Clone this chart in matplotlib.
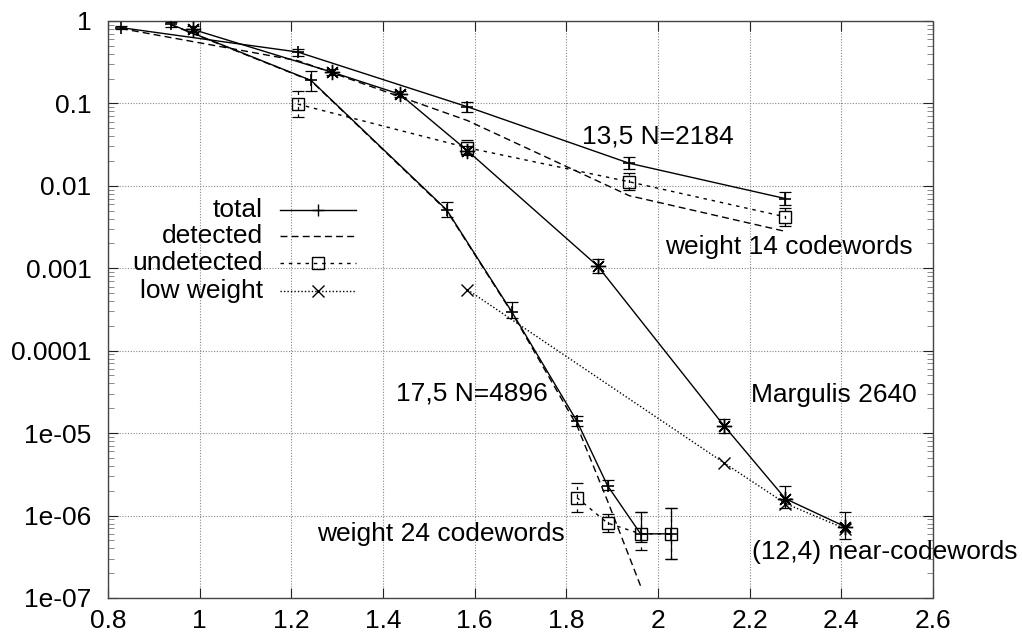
import numpy as np
import matplotlib
matplotlib.use("Agg")
import matplotlib.pyplot as plt
from matplotlib.lines import Line2D
from matplotlib.ticker import FixedLocator, FixedFormatter, LogLocator, NullFormatter

plt.rcParams["font.family"] = ["Liberation Sans", "DejaVu Sans"]

# ===== 13,5 N=2184 =====
a_x = [0.828, 1.214, 1.584, 1.937, 2.278]
a_total = [0.83, 0.42, 0.091, 0.0188, 0.007]
a_total_lo = [0.79, 0.38, 0.079, 0.016, 0.0059]
a_total_hi = [0.87, 0.46, 0.105, 0.0222, 0.0083]
a_det = [0.81, 0.33, 0.062, 0.0076, 0.0028]
a_und_x = [1.214, 1.584, 1.937, 2.278]
a_und = [0.098, 0.029, 0.0112, 0.0042]
a_und_lo = [0.068, 0.0237, 0.0089, 0.00325]
a_und_hi = [0.143, 0.036, 0.0142, 0.00533]

# ===== 17,5 N=4896 =====
b_x = [0.937, 1.243, 1.539, 1.681, 1.823, 1.890, 1.962, 2.028]
b_total = [0.91, 0.19, 0.0051, 2.96e-4, 1.4e-5, 2.3e-6, 6.0e-7, 6.0e-7]
b_total_lo = [0.85, 0.143, 0.00415, 2.47e-4, 1.22e-5, 2.04e-6, 4.8e-7, 3.0e-7]
b_total_hi = [0.97, 0.249, 0.0064, 3.93e-4, 1.61e-5, 2.69e-6, 1.1e-6, 1.22e-6]
b_det_x = [0.937, 1.243, 1.539, 1.681, 1.823, 1.890, 1.962]
b_det = [0.90, 0.188, 0.0050, 2.9e-4, 1.24e-5, 1.5e-6, 1.4e-7]
b_und_x = [1.823, 1.890, 1.962, 2.028]
b_und = [1.65e-6, 8.1e-7, 6.0e-7, 6.0e-7]
b_und_lo = [1.11e-6, 6.3e-7, 3.8e-7, 3.0e-7]
b_und_hi = [2.45e-6, 1.05e-6, 1.1e-6, 1.22e-6]

# ===== Margulis 2640 =====
c_x = [0.985, 1.288, 1.437, 1.584, 1.868, 2.144, 2.278, 2.409]
c_total = [0.79, 0.24, 0.129, 0.0267, 1.07e-3, 1.23e-5, 1.6e-6, 7.3e-7]
c_total_lo = [0.73, 0.22, 0.118, 0.024, 8.8e-4, 9.9e-6, 1.22e-6, 5.2e-7]
c_total_hi = [0.86, 0.26, 0.14, 0.030, 1.28e-3, 1.47e-5, 2.3e-6, 1.1e-6]
c_low_x = [1.584, 2.144, 2.278, 2.409]
c_low = [5.5e-4, 4.36e-6, 1.4e-6, 6.9e-7]

x_ticks = [0.8, 1.0, 1.2, 1.4, 1.6, 1.8, 2.0, 2.2, 2.4, 2.6]
x_labels = ["0.8", "1", "1.2", "1.4", "1.6", "1.8", "2", "2.2", "2.4", "2.6"]
y_ticks = [1, 0.1, 0.01, 0.001, 0.0001, 1e-5, 1e-6, 1e-7]
y_labels = ["1", "0.1", "0.01", "0.001", "0.0001", "1e-05", "1e-06", "1e-07"]

labels = [
    ("13,5 N=2184", 1.834, 0.0402, "left"),
    ("weight 14 codewords", 2.015, 0.00181, "left"),
    ("17,5 N=4896", 1.428, 3.06e-5, "left"),
    ("Margulis 2640", 2.202, 2.89e-5, "left"),
    ("weight 24 codewords", 1.797, 5.94e-7, "right"),
    ("(12,4) near-codewords", 2.206, 3.63e-7, "left"),
]

FS = 19
LW = 1.0
DET = (0, (5, 3))
UND = (0, (2.5, 3.5))
LOW = (0, (1, 1.5))
STAR = (8, 2, 0)

fig = plt.figure(figsize=(10.22, 6.35), dpi=100)
ax = fig.add_axes([0.1057, 0.0583, 0.8072, 0.9087])


def errbars(x, y, lo, hi, ls="-"):
    y = np.array(y)
    yerr = [y - np.array(lo), np.array(hi) - y]
    _, caps, bars = ax.errorbar(x, y, yerr=yerr, fmt="none", ecolor="k",
                                elinewidth=0.9, capsize=4.5, capthick=0.9, zorder=3)
    bars[0].set_linestyle(ls)


# totals
ax.plot(a_x, a_total, color="k", lw=LW, marker="+", ms=9, mew=1.2, zorder=4)
errbars(a_x, a_total, a_total_lo, a_total_hi)
ax.plot(b_x, b_total, color="k", lw=LW, marker="+", ms=9, mew=1.2, zorder=4)
errbars(b_x, b_total, b_total_lo, b_total_hi)
ax.plot(c_x, c_total, color="k", lw=LW, marker=STAR, ms=11, mew=1.0, zorder=4)
errbars(c_x, c_total, c_total_lo, c_total_hi)

# detected
ax.plot(a_x, a_det, color="k", lw=LW, ls=DET, zorder=3)
ax.plot(b_det_x, b_det, color="k", lw=LW, ls=DET, zorder=3)

# undetected
ax.plot(a_und_x, a_und, color="k", lw=LW, ls=UND, marker="s", ms=9,
        mfc="none", mew=1.0, zorder=4)
errbars(a_und_x, a_und, a_und_lo, a_und_hi, UND)
ax.plot(b_und_x, b_und, color="k", lw=LW, ls=UND, marker="s", ms=9,
        mfc="none", mew=1.0, zorder=4)
errbars(b_und_x, b_und, b_und_lo, b_und_hi, UND)

# low weight
ax.plot(c_low_x, c_low, color="k", lw=LW, ls=LOW, marker="x", ms=9, mew=1.0, zorder=4)

ax.set_xscale("linear")
ax.set_yscale("log")
ax.set_xlim(0.8, 2.6)
ax.set_ylim(1e-7, 1)

ax.xaxis.set_major_locator(FixedLocator(x_ticks))
ax.xaxis.set_major_formatter(FixedFormatter(x_labels))
ax.yaxis.set_major_locator(FixedLocator(y_ticks))
ax.yaxis.set_major_formatter(FixedFormatter(y_labels))
ax.yaxis.set_minor_locator(LogLocator(base=10, subs=np.arange(2, 10)))
ax.yaxis.set_minor_formatter(NullFormatter())

ax.tick_params(axis="both", which="major", direction="in", length=7, width=0.8,
               labelsize=FS, top=True, right=True, color="#222222")
ax.tick_params(axis="y", which="minor", direction="in", length=4, width=0.6,
               right=True, color="#777777")
ax.tick_params(axis="y", which="major", pad=12)
ax.tick_params(axis="x", which="major", pad=8)

ax.grid(True, which="major", color="#888888", ls=(0, (1, 1.5)), lw=0.8)
for s in ax.spines.values():
    s.set_linestyle((0, (1, 1)))
    s.set_color("#444444")
    s.set_linewidth(1.0)

for txt, tx, ty, ha in labels:
    ax.text(tx, ty, txt, fontsize=FS, ha=ha, va="center", zorder=5)

# ===== legend (gnuplot style: text right, sample left) =====
leg_rows = [
    ("total", "-", "+"),
    ("detected", DET, None),
    ("undetected", UND, "s"),
    ("low weight", LOW, "x"),
]
leg_y = [0.6724, 0.6274, 0.580, 0.5326]
for (name, ls, mk), yy in zip(leg_rows, leg_y):
    ax.text(0.188, yy, name, transform=ax.transAxes, fontsize=FS,
            ha="right", va="center")
    ax.add_line(Line2D([0.2085, 0.3006], [yy, yy], transform=ax.transAxes,
                       color="k", lw=LW, ls=ls))
    if mk:
        ax.add_line(Line2D([0.2545], [yy], transform=ax.transAxes, color="k",
                           marker=mk, ms=9, mfc="none", mew=1.0, ls="none"))

fig.savefig("out.png", dpi=100)
